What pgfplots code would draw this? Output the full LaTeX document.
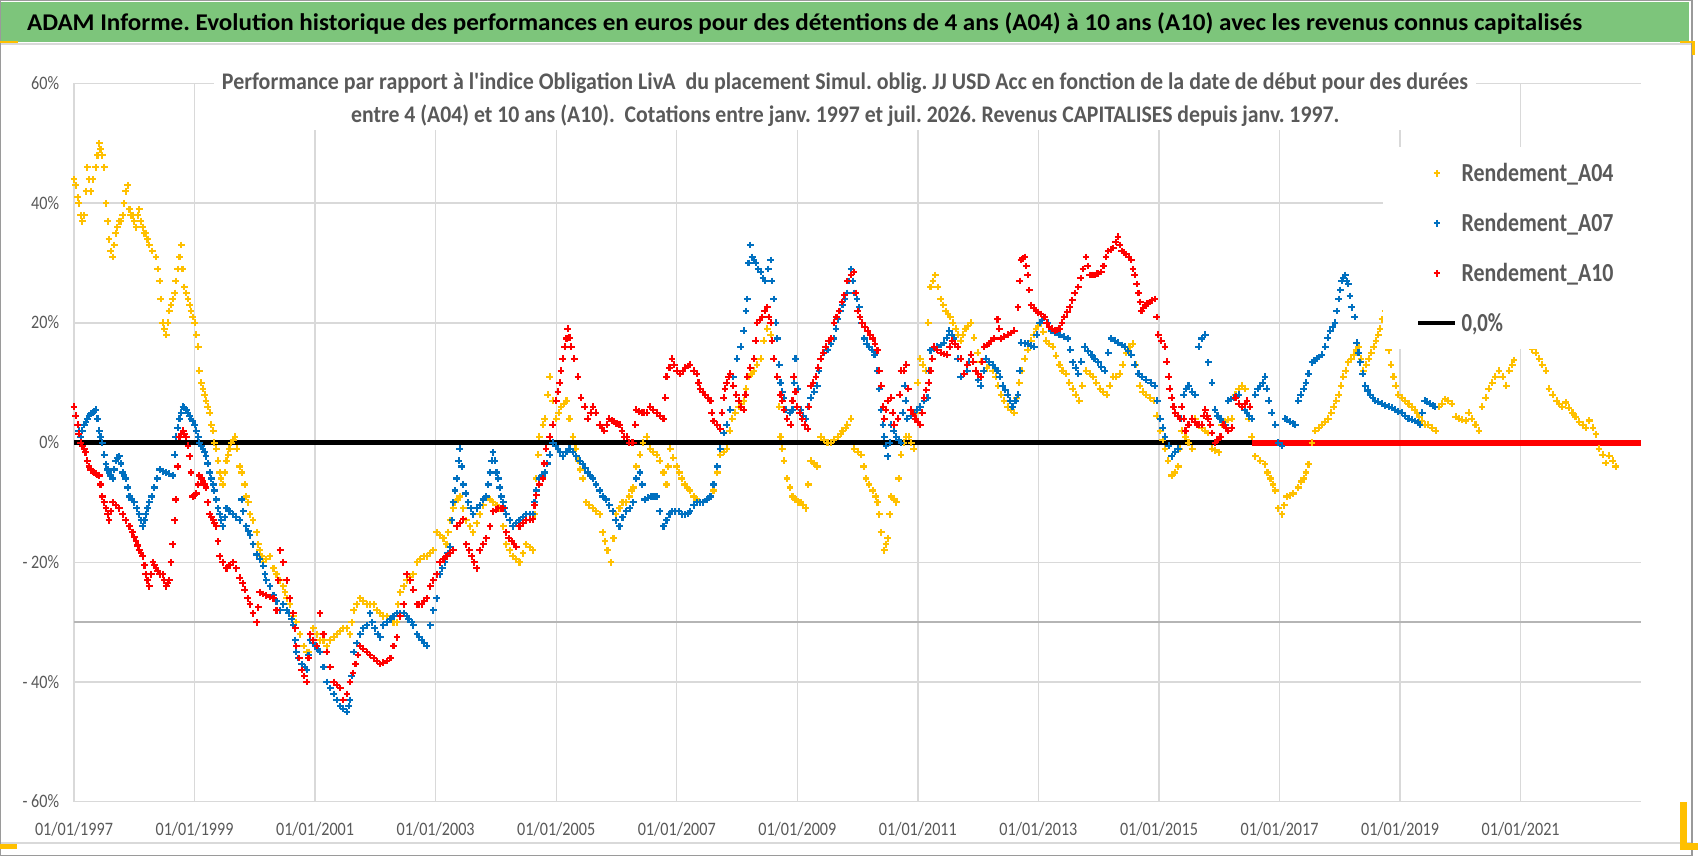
\documentclass[border=0pt]{standalone}
\usepackage{fontspec}
\setmainfont{Carlito}
\usepackage{graphicx}
\usepackage{pgfplots}
\pgfplotsset{compat=1.18}
\frenchspacing
\definecolor{titlegreen}{HTML}{7DC57B}
\definecolor{txtgray}{HTML}{595959}
\definecolor{gridgray}{HTML}{D9D9D9}
\definecolor{midgray}{HTML}{B5B5B5}
\definecolor{framegray}{HTML}{9A9A9A}
\definecolor{c04}{HTML}{FFC000}
\definecolor{c07}{HTML}{0070C0}
\definecolor{c10}{HTML}{FF0000}
\newcommand\tl[1]{\scalebox{0.85}[1]{#1}}
\pgfplotsset{pm/.style={only marks, mark=+, mark size=2pt, line width=1.05pt}}
\begin{document}
\begin{tikzpicture}
\useasboundingbox (0,0) rectangle (849pt,-428pt);
\fill[white] (0,0) rectangle (849pt,-428pt);
\fill[titlegreen] (0.5pt,-0.85pt) rectangle (844.5pt,-20.85pt);
\draw[gridgray, line width=0.6pt] (0,-22pt) -- (846pt,-22pt);
\draw[gridgray, line width=0.6pt] (0,-421.5pt) -- (846pt,-421.5pt);
\draw[framegray, line width=0.6pt] (0.3pt,-0.3pt) rectangle (846pt,-427.6pt);
\fill[c04] (0,-20.5pt) rectangle (9pt,-21.75pt);
\fill[c04] (840pt,-20.5pt) rectangle (847.5pt,-21.75pt);
\fill[c04] (846pt,-20.5pt) rectangle (847.5pt,-27.5pt);
\fill[c04] (0,-422pt) rectangle (8.5pt,-424.5pt);
\fill[c04] (840pt,-401pt) rectangle (843.5pt,-424pt);
\fill[c04] (840pt,-421.5pt) rectangle (849pt,-425pt);
\node[anchor=base, inner sep=0pt] at (402.3pt,-15.4pt) {\resizebox{777.5pt}{\height}{\fontsize{12}{14}\selectfont\bfseries ADAM Informe. Evolution historique des performances en euros pour des détentions de 4 ans (A04) à 10 ans (A10) avec les revenus connus capitalisés}};
\begin{axis}[
  at={(37pt,-400.85pt)}, anchor=south west,
  scale only axis, width=783.6pt, height=359.1pt,
  xmin=1997, xmax=2023, ymin=-60, ymax=60,
  clip=false,
  axis line style={draw=none},
  major tick length=0pt,
  tick style={draw=none},
  grid=major,
  grid style={gridgray, line width=0.7pt},
  xtick={1997,1999,...,2021},
  xticklabels={\tl{01/01/1997},\tl{01/01/1999},\tl{01/01/2001},\tl{01/01/2003},\tl{01/01/2005},\tl{01/01/2007},\tl{01/01/2009},\tl{01/01/2011},\tl{01/01/2013},\tl{01/01/2015},\tl{01/01/2017},\tl{01/01/2019},\tl{01/01/2021}},
  ytick={-60,-40,-20,0,20,40,60},
  yticklabels={\tl{- 60\%},\tl{- 40\%},\tl{- 20\%},\tl{0\%},\tl{20\%},\tl{40\%},\tl{60\%}},
  xticklabel style={font=\fontsize{9.5}{11}\selectfont, text=txtgray, anchor=base, inner sep=0pt, yshift=-16.8pt},
  yticklabel style={font=\fontsize{9.5}{11}\selectfont, text=txtgray, anchor=base east, inner sep=0pt, xshift=-7.25pt, yshift=-3pt},
  legend image code/.code={\draw[mark repeat=2,mark phase=2,#1] plot coordinates {(0pt,0pt) (9.25pt,0pt) (18.5pt,0pt)};},
  legend cell align=left,
  legend style={at={(0.8352,0.9116)}, anchor=north west, draw=none, fill=white,
    inner xsep=16.5pt, inner ysep=7.4pt, row sep=13.8pt, column sep=2pt,
    nodes={inner sep=0pt, text height=9.8pt, text depth=1.4pt},
    font=\fontsize{13}{15}\selectfont\bfseries, text=txtgray},
]
\draw[midgray, line width=0.7pt] (axis cs:1997,-30) -- (axis cs:2023,-30);
\addplot[pm, color=c04, mark options={scale=0.85}] coordinates {
(1997.00,44)(1997.03,43)(1997.06,41)(1997.08,40)(1997.11,38)(1997.14,37)(1997.17,38)(1997.20,42)(1997.22,46)(1997.25,44)(1997.28,42)(1997.31,44)(1997.36,46)(1997.39,48)(1997.42,50)(1997.44,49)(1997.47,48)(1997.50,46)(1997.53,40)(1997.56,37)(1997.58,34)(1997.61,32)(1997.64,31)(1997.67,33)(1997.69,35)(1997.72,36)(1997.75,37)(1997.78,37)(1997.81,38)(1997.83,40)(1997.86,42)(1997.89,43)(1997.92,39)(1997.94,38)(1997.97,38)(1998.00,37)(1998.03,36)(1998.06,38)(1998.08,39)(1998.11,37)(1998.14,36)(1998.17,35)(1998.19,35)(1998.22,34)(1998.25,33)(1998.30,32)(1998.36,31)(1998.39,29)(1998.42,27)(1998.44,24)(1998.47,20)(1998.50,19)(1998.53,18)(1998.56,20)(1998.58,22)(1998.61,23)(1998.64,24)(1998.67,25)(1998.69,27)(1998.72,29)(1998.75,31)(1998.78,33)(1998.80,29)(1998.83,26)(1998.86,25)(1998.89,24)(1998.92,23)(1998.94,22)(1998.97,21)(1999.00,20)(1999.03,18)(1999.06,16)(1999.08,12)(1999.11,10)(1999.14,9)(1999.17,8)(1999.19,7)(1999.22,6)(1999.25,5)(1999.28,3)(1999.31,2)(1999.33,0)(1999.36,-1)(1999.39,-3)(1999.42,-5)(1999.44,-6)(1999.47,-7)(1999.50,-5)(1999.53,-3)(1999.56,-2)(1999.58,-1)(1999.61,0)(1999.64,0.5)(1999.67,1)(1999.70,-1)(1999.75,-4)(1999.78,-5)(1999.83,-7)(1999.86,-9)(1999.89,-10)(1999.92,-12)(1999.97,-13)(2000.03,-15)(2000.06,-17)(2000.08,-18)(2000.11,-19)(2000.14,-20)(2000.19,-19.5)(2000.25,-19)(2000.31,-21)(2000.36,-22)(2000.42,-23)(2000.47,-24)(2000.50,-25)(2000.53,-26)(2000.58,-27)(2000.64,-29)(2000.69,-30)(2000.75,-32)(2000.81,-34)(2000.86,-35)(2000.89,-35)(2000.92,-33)(2000.97,-31)(2001.03,-32)(2001.08,-33)(2001.14,-33)(2001.19,-34)(2001.25,-33)(2001.31,-32.5)(2001.36,-32)(2001.42,-31.5)(2001.47,-31)(2001.53,-31)(2001.58,-32)(2001.61,-30)(2001.64,-28)(2001.69,-27)(2001.75,-26)(2001.80,-26.5)(2001.86,-27)(2001.91,-27)(2001.97,-27)(2002.02,-28)(2002.08,-28.5)(2002.13,-29)(2002.19,-29)(2002.25,-29.5)(2002.30,-30)(2002.36,-30)(2002.38,-27)(2002.41,-25)(2002.47,-24)(2002.52,-23)(2002.58,-22.5)(2002.63,-22)(2002.69,-20)(2002.74,-19.5)(2002.80,-19)(2002.85,-19)(2002.91,-18.5)(2002.96,-18)(2003.02,-15)(2003.07,-15.5)(2003.13,-16)(2003.18,-17)(2003.21,-15)(2003.24,-13)(2003.29,-11)(2003.32,-10)(2003.37,-9.5)(2003.40,-9)(2003.46,-11)(2003.51,-13)(2003.57,-14)(2003.62,-15)(2003.68,-13.5)(2003.73,-12)(2003.79,-10.5)(2003.84,-9)(2003.90,-9.5)(2003.95,-10)(2004.01,-10.5)(2004.06,-11)(2004.12,-14)(2004.17,-17)(2004.23,-18)(2004.28,-19)(2004.34,-19.5)(2004.39,-20)(2004.45,-18.5)(2004.50,-17)(2004.56,-17.5)(2004.61,-18)(2004.64,-12)(2004.67,-6)(2004.70,-2)(2004.72,1)(2004.78,3)(2004.81,4)(2004.86,8)(2004.89,11)(2004.94,7)(2005.00,4)(2005.04,5)(2005.08,6)(2005.13,6.5)(2005.17,7)(2005.22,4)(2005.28,1)(2005.32,-1)(2005.36,-3)(2005.40,-4.5)(2005.44,-6)(2005.50,-10)(2005.55,-10.5)(2005.61,-11)(2005.66,-11.5)(2005.72,-12)(2005.77,-15)(2005.81,-16.5)(2005.85,-18)(2005.91,-20)(2005.95,-16)(2005.99,-12)(2006.05,-11)(2006.10,-10)(2006.16,-10)(2006.21,-9)(2006.25,-8)(2006.28,-7.5)(2006.33,-4)(2006.39,-2)(2006.44,0)(2006.50,1)(2006.56,-1)(2006.61,-1.5)(2006.67,-2)(2006.72,-3)(2006.78,-5)(2006.83,-7)(2006.86,-4)(2006.89,-1)(2006.94,-2.5)(2007.00,-4)(2007.04,-5)(2007.08,-6)(2007.13,-7)(2007.17,-7.5)(2007.22,-8)(2007.28,-9)(2007.33,-9.5)(2007.39,-10)(2007.44,-10)(2007.50,-9.5)(2007.56,-9)(2007.61,-8)(2007.67,-5)(2007.72,-2)(2007.78,-1.5)(2007.83,-1)(2007.88,2)(2007.92,4)(2007.97,5)(2008.03,6)(2008.07,6.5)(2008.11,7)(2008.15,9)(2008.19,11)(2008.24,11.5)(2008.28,12)(2008.33,13)(2008.39,14)(2008.44,17)(2008.50,19)(2008.56,18)(2008.61,14)(2008.67,11)(2008.70,6)(2008.72,1)(2008.75,-1)(2008.78,-3)(2008.83,-6)(2008.88,-7.5)(2008.92,-9)(2008.97,-9.5)(2009.02,-10)(2009.06,-10)(2009.10,-10.5)(2009.14,-11)(2009.18,-7)(2009.22,-3)(2009.28,-3.5)(2009.33,-4)(2009.39,1)(2009.44,0.5)(2009.50,0)(2009.56,0)(2009.61,0.5)(2009.67,1)(2009.72,1.5)(2009.75,2)(2009.80,2.5)(2009.83,3)(2009.89,4)(2009.94,-1)(2010.00,-1.5)(2010.06,-2)(2010.10,-4)(2010.14,-6)(2010.19,-7)(2010.25,-8)(2010.30,-9)(2010.33,-10)(2010.36,-12)(2010.39,-15)(2010.44,-18)(2010.47,-17)(2010.50,-16)(2010.53,-12)(2010.56,-9)(2010.61,-9.5)(2010.64,-10)(2010.68,-6)(2010.72,-2)(2010.77,0)(2010.81,1)(2010.85,1)(2010.89,0)(2010.93,-1)(2010.97,5)(2011.00,10)(2011.04,14)(2011.08,13)(2011.13,12)(2011.17,20)(2011.21,26)(2011.25,27)(2011.29,28)(2011.33,26)(2011.38,24)(2011.42,23)(2011.46,22)(2011.50,21.5)(2011.54,21)(2011.58,20)(2011.63,19)(2011.67,18)(2011.71,17)(2011.75,18)(2011.79,19)(2011.83,19.5)(2011.88,20)(2011.93,17.5)(2011.99,15)(2012.04,13.5)(2012.10,12)(2012.14,12.5)(2012.18,13)(2012.24,12)(2012.29,11)(2012.33,9.5)(2012.38,8)(2012.43,7)(2012.49,6)(2012.54,5.5)(2012.60,5)(2012.64,7.5)(2012.68,10)(2012.72,12)(2012.77,14)(2012.82,15.5)(2012.88,17)(2012.92,18)(2012.96,19)(2013.00,19.5)(2013.04,20)(2013.08,18.5)(2013.13,17)(2013.18,16.5)(2013.24,16)(2013.29,14.5)(2013.35,13)(2013.40,12)(2013.46,11.5)(2013.51,10)(2013.57,9)(2013.62,8)(2013.68,7)(2013.73,9.5)(2013.79,12)(2013.85,11.5)(2013.91,11)(2013.96,10)(2014.02,9)(2014.07,8.5)(2014.13,8)(2014.18,9.5)(2014.24,11)(2014.29,11)(2014.35,11.5)(2014.40,13)(2014.46,15)(2014.51,16)(2014.57,16.5)(2014.62,13)(2014.68,9.5)(2014.73,8.5)(2014.79,8)(2014.85,7.5)(2014.91,7)(2014.96,4.5)(2015.02,2)(2015.06,0.5)(2015.10,-1)(2015.15,-3)(2015.21,-5.5)(2015.26,-5)(2015.32,-4)(2015.35,-1)(2015.38,2)(2015.44,1)(2015.49,0)(2015.55,-1)(2015.60,4)(2015.66,3)(2015.71,2.5)(2015.77,2)(2015.82,1.6)(2015.88,-1)(2015.93,-1.3)(2015.99,-1.6)(2016.04,3)(2016.10,3.5)(2016.15,3.8)(2016.21,4)(2016.27,8)(2016.32,9)(2016.38,9.5)(2016.43,9)(2016.49,4)(2016.54,1)(2016.60,-2.3)(2016.68,-3)(2016.76,-3.6)(2016.80,-5)(2016.85,-6)(2016.89,-7)(2016.93,-8)(2016.98,-11)(2017.04,-12)(2017.08,-10.5)(2017.12,-9)(2017.18,-8.8)(2017.23,-8.5)(2017.31,-7.5)(2017.36,-6.5)(2017.40,-6)(2017.44,-5)(2017.48,-3.6)(2017.54,0)(2017.59,2)(2017.65,2.5)(2017.70,3)(2017.76,3.5)(2017.81,4)(2017.86,5)(2017.90,6)(2017.94,7)(2017.98,8)(2018.02,9.5)(2018.06,11)(2018.10,12)(2018.14,13.4)(2018.19,14)(2018.23,14.7)(2018.27,15.5)(2018.31,16)(2018.35,14)(2018.39,12)(2018.44,13)(2018.48,14)(2018.52,15)(2018.56,16)(2018.60,17)(2018.64,18)(2018.67,19)(2018.70,20.6)(2018.75,22)(2018.78,18)(2018.81,15.4)(2018.85,13)(2018.89,11)(2018.93,9.5)(2018.97,8)(2019.03,7.5)(2019.08,7)(2019.14,6.5)(2019.19,6)(2019.24,5.5)(2019.28,5)(2019.32,4.3)(2019.36,3.6)(2019.42,3)(2019.47,3)(2019.53,2.5)(2019.59,2)(2019.64,6)(2019.70,6.5)(2019.75,7.3)(2019.80,7)(2019.86,6.5)(2019.92,4.3)(2019.97,4)(2020.03,3.8)(2020.09,3.7)(2020.14,5)(2020.19,4)(2020.25,3)(2020.31,2)(2020.36,6)(2020.42,7.5)(2020.47,9)(2020.53,10)(2020.58,11)(2020.64,12)(2020.70,11)(2020.76,9.5)(2020.81,12)(2020.86,13)(2020.89,13.8)(2021.19,15.6)(2021.25,15)(2021.31,14)(2021.36,13)(2021.42,12)(2021.47,9)(2021.53,8)(2021.60,7)(2021.64,6.5)(2021.69,6)(2021.75,6.7)(2021.80,5.8)(2021.86,5)(2021.91,4.3)(2021.97,3.5)(2022.03,3)(2022.08,2.5)(2022.14,3.7)(2022.20,2.5)(2022.25,1.4)(2022.30,-1)(2022.36,-2)(2022.41,-3.4)(2022.47,-2.2)(2022.53,-3)(2022.58,-4)
};
\addlegendentry{\resizebox{76pt}{\height}{Rendement\_A04}}
\addplot[pm, color=c07, mark options={scale=0.85}] coordinates {
(1997.00,6)(1997.03,4.5)(1997.06,3)(1997.08,2)(1997.11,1)(1997.14,2)(1997.17,3)(1997.20,3.5)(1997.22,4)(1997.25,4.5)(1997.28,4.8)(1997.31,5)(1997.33,5.2)(1997.36,5.5)(1997.39,4)(1997.42,2)(1997.44,1)(1997.47,0)(1997.50,-2)(1997.53,-3.6)(1997.56,-4.5)(1997.58,-5)(1997.61,-5.5)(1997.64,-6)(1997.67,-4.5)(1997.69,-3)(1997.72,-2.5)(1997.75,-2.3)(1997.78,-3.5)(1997.81,-5)(1997.83,-5.5)(1997.86,-6)(1997.89,-7.5)(1997.92,-9)(1997.96,-9.5)(1998.00,-10)(1998.04,-11)(1998.08,-12)(1998.11,-13)(1998.14,-14)(1998.17,-13)(1998.19,-12)(1998.22,-11)(1998.25,-10)(1998.29,-9)(1998.33,-7.5)(1998.38,-6)(1998.42,-4.5)(1998.47,-4.8)(1998.53,-5)(1998.58,-5.2)(1998.64,-5.5)(1998.67,-2)(1998.69,1)(1998.72,2.5)(1998.75,4)(1998.78,5)(1998.81,6)(1998.83,5.8)(1998.86,5.5)(1998.89,5)(1998.92,4.5)(1998.94,4)(1998.97,3.6)(1999.00,3)(1999.03,2)(1999.06,1)(1999.08,0)(1999.11,-0.5)(1999.14,-1)(1999.17,-1.5)(1999.19,-2.3)(1999.22,-3.5)(1999.25,-5)(1999.28,-6)(1999.31,-7)(1999.33,-8)(1999.36,-9.5)(1999.39,-11)(1999.42,-12)(1999.44,-13)(1999.47,-14)(1999.50,-12.5)(1999.53,-11)(1999.58,-11.5)(1999.64,-12)(1999.69,-12.5)(1999.75,-13)(1999.78,-9.5)(1999.81,-11.5)(1999.86,-14)(1999.89,-14.8)(1999.92,-15.5)(1999.97,-17)(2000.03,-18.7)(2000.08,-19.5)(2000.14,-20.6)(2000.17,-22)(2000.19,-23)(2000.25,-24)(2000.31,-25.5)(2000.36,-26.5)(2000.42,-28)(2000.47,-27)(2000.53,-28)(2000.56,-28.5)(2000.61,-29.5)(2000.64,-30.5)(2000.67,-33)(2000.69,-35)(2000.72,-36)(2000.78,-37)(2000.83,-37.5)(2000.86,-38)(2000.89,-35.5)(2000.92,-33)(2000.97,-33.5)(2001.00,-34)(2001.04,-34.5)(2001.08,-35)(2001.14,-37.5)(2001.19,-40)(2001.25,-41)(2001.31,-42)(2001.36,-43)(2001.42,-44)(2001.47,-44.5)(2001.53,-45)(2001.56,-44)(2001.58,-43)(2001.61,-39)(2001.64,-35)(2001.69,-33.5)(2001.75,-32)(2001.80,-31)(2001.86,-30.5)(2001.91,-28.5)(2001.95,-30)(2001.99,-31)(2002.04,-32)(2002.08,-32.5)(2002.13,-30.5)(2002.19,-30)(2002.25,-29.5)(2002.30,-29)(2002.36,-28.5)(2002.41,-28.5)(2002.47,-28.5)(2002.52,-29)(2002.55,-29.5)(2002.60,-30)(2002.63,-30.5)(2002.69,-32)(2002.73,-32.5)(2002.77,-33)(2002.81,-33.5)(2002.85,-34)(2002.91,-30.5)(2002.96,-28)(2003.02,-26)(2003.07,-22)(2003.11,-21)(2003.15,-20)(2003.20,-18.5)(2003.24,-17.4)(2003.27,-13)(2003.29,-10)(2003.32,-8)(2003.35,-6)(2003.38,-3)(2003.40,-1)(2003.43,-4)(2003.46,-7)(2003.50,-8.5)(2003.54,-10)(2003.58,-11)(2003.62,-12)(2003.68,-11)(2003.73,-10.5)(2003.79,-9.5)(2003.84,-9)(2003.87,-7)(2003.90,-5)(2003.93,-3)(2003.95,-1.6)(2003.98,-3)(2004.01,-5)(2004.04,-6)(2004.06,-7.5)(2004.09,-9)(2004.12,-10)(2004.15,-11)(2004.17,-12)(2004.23,-13)(2004.28,-14)(2004.34,-13.5)(2004.39,-13)(2004.45,-12.5)(2004.50,-12)(2004.56,-12)(2004.61,-12)(2004.64,-10)(2004.67,-8)(2004.72,-6)(2004.77,-5.5)(2004.81,-5)(2004.85,-3.5)(2004.89,-2)(2004.94,0)(2004.99,-0.5)(2005.03,-1)(2005.07,-1.5)(2005.11,-2.3)(2005.17,-1.5)(2005.22,-1)(2005.28,-1.5)(2005.33,-2.3)(2005.39,-3)(2005.44,-3.6)(2005.48,-4.3)(2005.52,-5)(2005.56,-5.5)(2005.61,-6)(2005.66,-7)(2005.72,-8)(2005.77,-9)(2005.83,-9.5)(2005.88,-10.5)(2005.94,-11.5)(2005.99,-13)(2006.05,-14)(2006.10,-12.5)(2006.16,-11.5)(2006.22,-11)(2006.28,-10)(2006.33,-6)(2006.39,-5)(2006.43,-7)(2006.47,-9.5)(2006.53,-9.2)(2006.58,-9)(2006.63,-9)(2006.67,-9)(2006.72,-11.5)(2006.78,-14)(2006.83,-13)(2006.88,-12)(2006.92,-11.5)(2006.97,-11.5)(2007.03,-11.5)(2007.08,-12)(2007.14,-12)(2007.19,-11.8)(2007.22,-11.5)(2007.28,-10.5)(2007.33,-10)(2007.39,-10)(2007.44,-10)(2007.50,-9.5)(2007.56,-9)(2007.61,-7)(2007.67,-4)(2007.72,-1)(2007.78,1.6)(2007.83,3)(2007.89,5.5)(2007.94,11)(2008.00,14)(2008.06,16)(2008.11,18.7)(2008.15,22)(2008.17,24)(2008.19,30)(2008.22,33)(2008.25,31)(2008.28,30.5)(2008.31,30)(2008.35,29)(2008.39,28.5)(2008.43,27.5)(2008.47,27)(2008.52,29)(2008.56,30.5)(2008.58,27)(2008.61,24)(2008.64,20)(2008.67,17.4)(2008.70,13)(2008.72,10)(2008.75,8.5)(2008.78,7.5)(2008.81,5.5)(2008.83,4)(2008.88,5)(2008.92,5.5)(2008.95,10)(2008.97,14)(2009.01,9)(2009.06,5.5)(2009.10,4.5)(2009.14,4)(2009.18,6)(2009.22,7.5)(2009.28,8.5)(2009.33,9.5)(2009.36,12)(2009.39,14)(2009.44,15)(2009.50,15.5)(2009.56,16.5)(2009.61,17.4)(2009.64,19)(2009.67,20.6)(2009.71,22)(2009.75,23)(2009.79,24)(2009.83,25)(2009.86,27)(2009.89,29)(2009.92,27)(2009.94,25)(2009.99,24)(2010.03,22.6)(2010.07,20)(2010.11,17.4)(2010.15,16.5)(2010.19,16)(2010.24,15.5)(2010.28,14.7)(2010.33,12)(2010.36,9)(2010.39,5.5)(2010.42,3)(2010.44,1)(2010.47,-0.5)(2010.50,-2.3)(2010.53,0)(2010.56,3)(2010.60,2)(2010.64,1)(2010.68,0.5)(2010.72,0)(2010.75,5)(2010.78,9.5)(2010.80,7)(2010.82,4)(2010.88,4.5)(2010.93,5)(2010.99,5.5)(2011.04,6)(2011.10,7)(2011.16,7.5)(2011.19,12)(2011.21,15.4)(2011.27,15.7)(2011.32,16)(2011.38,16.3)(2011.43,16.7)(2011.48,17.5)(2011.52,18.7)(2011.56,18)(2011.60,17.4)(2011.66,14)(2011.71,11)(2011.77,11.5)(2011.82,12)(2011.85,13.5)(2011.88,14.7)(2011.92,13.5)(2011.96,12)(2012.00,10.5)(2012.04,9.5)(2012.09,12)(2012.13,14)(2012.18,13.5)(2012.24,13)(2012.28,12.5)(2012.32,12)(2012.36,11)(2012.41,9.5)(2012.45,8.8)(2012.49,8)(2012.53,7)(2012.57,6)(2012.62,7)(2012.66,8)(2012.69,12)(2012.71,16.7)(2012.77,16.6)(2012.82,16.5)(2012.88,16.2)(2012.93,16)(2012.97,18)(2013.02,20)(2013.06,20.5)(2013.10,21)(2013.15,20)(2013.21,18.7)(2013.28,18.3)(2013.35,18)(2013.42,17.7)(2013.49,17.4)(2013.53,15.5)(2013.57,13.4)(2013.62,12.5)(2013.66,11.5)(2013.71,13.5)(2013.77,16)(2013.82,15.3)(2013.88,14.7)(2013.93,14)(2013.99,13.4)(2014.04,12.7)(2014.10,12)(2014.16,15)(2014.21,17.4)(2014.27,17)(2014.32,16.7)(2014.38,16.3)(2014.43,16)(2014.49,15.3)(2014.54,14.7)(2014.60,13)(2014.66,11.5)(2014.72,11)(2014.79,10.5)(2014.86,10)(2014.93,9.5)(2014.97,7)(2015.02,4)(2015.06,2.5)(2015.10,1)(2015.16,-0.5)(2015.21,-2.3)(2015.27,-1.5)(2015.32,-1)(2015.36,4)(2015.41,8)(2015.45,9)(2015.49,9.5)(2015.55,8.5)(2015.60,8)(2015.66,16)(2015.71,17.4)(2015.77,18)(2015.82,13.4)(2015.88,10)(2015.93,5.5)(2015.97,4.5)(2016.02,4)(2016.06,3.5)(2016.10,3)(2016.15,7)(2016.20,7.3)(2016.24,7.5)(2016.28,7.8)(2016.32,8)(2016.38,6)(2016.42,5.5)(2016.46,5)(2016.50,4.5)(2016.54,4)(2016.60,8)(2016.64,9)(2016.68,9.5)(2016.72,10)(2016.76,11)(2016.79,9)(2016.82,7)(2016.87,5)(2016.93,3)(2016.98,0)(2017.04,-0.5)(2017.09,4)(2017.13,3.8)(2017.18,3.5)(2017.22,3.2)(2017.26,3)(2017.31,7)(2017.35,8)(2017.40,9)(2017.44,10)(2017.48,11.5)(2017.54,13.4)(2017.58,13.7)(2017.62,14)(2017.66,14.3)(2017.70,14.7)(2017.76,16)(2017.80,17.5)(2017.84,18.7)(2017.88,19.3)(2017.92,20)(2017.95,22)(2017.98,24)(2018.01,25.5)(2018.03,27)(2018.06,27.5)(2018.09,28)(2018.12,27)(2018.14,26.5)(2018.17,24.5)(2018.20,22.6)(2018.25,21)(2018.28,16.7)(2018.31,15)(2018.34,13.4)(2018.38,11.5)(2018.42,9.5)(2018.46,8.7)(2018.50,8)(2018.55,7.5)(2018.59,7)(2018.64,6.8)(2018.70,6.5)(2018.75,6.2)(2018.81,6)(2018.86,5.8)(2018.92,5.5)(2018.97,5.2)(2019.03,5)(2019.08,4.5)(2019.14,4)(2019.19,3.8)(2019.25,3.6)(2019.29,3.3)(2019.33,3)(2019.37,5)(2019.41,7)(2019.45,6.8)(2019.50,6.5)(2019.54,6.2)(2019.58,6)
};
\addlegendentry{\resizebox{76pt}{\height}{Rendement\_A07}}
\addplot[pm, color=c10, mark options={scale=0.85}] coordinates {
(1997.00,6)(1997.03,4.5)(1997.06,3)(1997.08,1.5)(1997.11,0)(1997.14,-0.5)(1997.17,-1)(1997.19,-1.6)(1997.22,-3)(1997.25,-4)(1997.28,-4.5)(1997.33,-5)(1997.36,-5.2)(1997.39,-5.4)(1997.42,-5.5)(1997.44,-7)(1997.47,-9)(1997.50,-10)(1997.53,-11)(1997.56,-12)(1997.58,-13)(1997.61,-11.5)(1997.64,-10)(1997.69,-10.5)(1997.75,-11)(1997.81,-12)(1997.86,-13)(1997.92,-14)(1997.97,-15)(1998.00,-15.8)(1998.03,-16.5)(1998.06,-17.2)(1998.08,-18)(1998.11,-18.5)(1998.14,-19)(1998.17,-20.5)(1998.19,-22)(1998.22,-23)(1998.25,-24)(1998.28,-22)(1998.31,-20)(1998.33,-20.5)(1998.36,-21)(1998.39,-21.5)(1998.42,-22)(1998.47,-22)(1998.50,-23)(1998.53,-24)(1998.56,-23.5)(1998.58,-23)(1998.61,-20)(1998.64,-17)(1998.67,-13)(1998.69,-9.5)(1998.72,-4)(1998.75,1)(1998.78,1.5)(1998.81,2)(1998.83,1.5)(1998.86,1)(1998.89,-0.5)(1998.92,-2.3)(1998.94,-5)(1998.97,-9)(1999.00,-8.8)(1999.03,-8.5)(1999.06,-7)(1999.08,-5.5)(1999.11,-6)(1999.14,-6.5)(1999.17,-7)(1999.19,-7.5)(1999.22,-10)(1999.25,-12)(1999.28,-12.5)(1999.31,-13)(1999.33,-13.5)(1999.36,-14)(1999.39,-16.5)(1999.42,-19)(1999.47,-20)(1999.53,-21)(1999.58,-20.5)(1999.64,-20)(1999.69,-21)(1999.75,-22.6)(1999.80,-23.5)(1999.83,-24.6)(1999.88,-26)(1999.92,-27)(1999.97,-28.5)(2000.03,-30)(2000.06,-27.5)(2000.08,-25)(2000.14,-25.3)(2000.19,-25.5)(2000.25,-25.8)(2000.31,-26)(2000.36,-28)(2000.39,-23)(2000.42,-18)(2000.47,-20)(2000.53,-23)(2000.58,-26)(2000.64,-28.5)(2000.67,-31)(2000.69,-34)(2000.74,-36)(2000.78,-38)(2000.82,-39)(2000.86,-40)(2000.89,-36)(2000.92,-32)(2000.97,-33)(2001.03,-34)(2001.08,-28.5)(2001.14,-32)(2001.19,-35)(2001.25,-37.5)(2001.31,-40)(2001.36,-40.5)(2001.42,-41)(2001.47,-43)(2001.53,-42)(2001.58,-40)(2001.63,-38.5)(2001.67,-37)(2001.71,-35.5)(2001.75,-34)(2001.80,-34.5)(2001.86,-35)(2001.91,-35.5)(2001.97,-36)(2002.02,-36.5)(2002.08,-37)(2002.13,-36.8)(2002.19,-36.5)(2002.25,-36)(2002.30,-34)(2002.36,-32.5)(2002.41,-29)(2002.47,-27)(2002.52,-22)(2002.58,-23)(2002.63,-24.6)(2002.69,-27)(2002.73,-27)(2002.77,-27)(2002.81,-26.5)(2002.85,-26)(2002.91,-24)(2002.96,-23)(2003.02,-22)(2003.07,-20)(2003.13,-19.5)(2003.18,-19)(2003.24,-18.5)(2003.29,-18)(2003.35,-14)(2003.40,-13.5)(2003.46,-12.8)(2003.51,-17)(2003.56,-18)(2003.60,-19)(2003.64,-20)(2003.68,-21)(2003.73,-18)(2003.79,-17)(2003.84,-16)(2003.90,-14)(2003.95,-11.5)(2004.00,-11.2)(2004.04,-11)(2004.08,-11)(2004.12,-11)(2004.17,-15)(2004.21,-16)(2004.26,-16.5)(2004.30,-17)(2004.34,-17.4)(2004.39,-14)(2004.45,-13.5)(2004.50,-13)(2004.56,-12.9)(2004.61,-12.8)(2004.64,-10.5)(2004.67,-8.8)(2004.72,-7)(2004.78,-6)(2004.80,-3.5)(2004.83,-1)(2004.89,1)(2004.94,3)(2005.00,7)(2005.03,8.5)(2005.06,10)(2005.08,12)(2005.11,14)(2005.14,16)(2005.17,17.4)(2005.19,19)(2005.22,17.5)(2005.25,16)(2005.30,14)(2005.36,11)(2005.41,7.5)(2005.47,6)(2005.52,4)(2005.57,5)(2005.61,6)(2005.66,5)(2005.72,3)(2005.76,2.5)(2005.80,2)(2005.84,3)(2005.88,4)(2005.92,3.7)(2005.96,3.5)(2006.00,3.2)(2006.05,3)(2006.09,2)(2006.13,1)(2006.17,1)(2006.21,0)(2006.25,0)(2006.28,0)(2006.31,3)(2006.33,5.5)(2006.38,5.2)(2006.42,5)(2006.46,5)(2006.50,5)(2006.56,6)(2006.61,5.5)(2006.67,5)(2006.72,4.5)(2006.78,4)(2006.81,7.5)(2006.83,11)(2006.88,12.5)(2006.92,14)(2006.96,13)(2007.00,12)(2007.06,11.5)(2007.10,12)(2007.14,12.5)(2007.18,12.8)(2007.22,13)(2007.28,12)(2007.33,11.5)(2007.36,10)(2007.39,9)(2007.43,8.5)(2007.47,8)(2007.52,7.5)(2007.56,7)(2007.58,5)(2007.61,3.6)(2007.67,3)(2007.72,2.3)(2007.75,5)(2007.78,7.5)(2007.80,9)(2007.83,10)(2007.86,11)(2007.89,11.5)(2007.94,9.5)(2007.99,8)(2008.03,7)(2008.07,6)(2008.11,5.5)(2008.14,8)(2008.17,11)(2008.22,12.5)(2008.28,14)(2008.31,17)(2008.33,20)(2008.38,20.5)(2008.42,21)(2008.46,22)(2008.50,22.6)(2008.53,21)(2008.56,20)(2008.58,17)(2008.61,14)(2008.67,11)(2008.72,8)(2008.75,7)(2008.78,5.5)(2008.83,4)(2008.89,3)(2008.92,7)(2008.94,11)(2008.97,8.5)(2009.00,6)(2009.04,5)(2009.08,4)(2009.12,3)(2009.17,2.3)(2009.19,6)(2009.22,9.5)(2009.26,10)(2009.31,11)(2009.35,12.5)(2009.39,14)(2009.43,15)(2009.47,16)(2009.52,17)(2009.56,17.4)(2009.61,20)(2009.65,21)(2009.69,22)(2009.74,23.5)(2009.78,24.6)(2009.83,27)(2009.89,28)(2009.94,28.5)(2009.97,25)(2010.00,22)(2010.04,21)(2010.08,20)(2010.12,19.3)(2010.17,18.7)(2010.21,18)(2010.25,17.4)(2010.29,16.5)(2010.33,15.4)(2010.36,12)(2010.39,9.5)(2010.42,6)(2010.44,4)(2010.47,5.5)(2010.50,7)(2010.56,7.5)(2010.58,5)(2010.61,3)(2010.67,4)(2010.70,8)(2010.72,12)(2010.77,12)(2010.81,13)(2010.84,9)(2010.88,5.5)(2010.92,4.8)(2010.96,4)(2011.00,3.5)(2011.04,3)(2011.07,5)(2011.10,7.5)(2011.14,8.8)(2011.18,10)(2011.21,12)(2011.24,14)(2011.27,16)(2011.32,15.5)(2011.38,15)(2011.43,14.8)(2011.49,14.7)(2011.53,16)(2011.57,17)(2011.62,16.5)(2011.66,16)(2011.71,14)(2011.77,11.5)(2011.82,13)(2011.88,14.7)(2011.92,13.5)(2011.96,12)(2012.00,11.5)(2012.04,11)(2012.07,13.5)(2012.10,16)(2012.14,16.3)(2012.18,16.5)(2012.22,17)(2012.27,17.4)(2012.32,20.6)(2012.35,19)(2012.38,17.4)(2012.43,17.7)(2012.49,18)(2012.54,18.3)(2012.60,18.7)(2012.66,22.6)(2012.69,27)(2012.71,30.5)(2012.74,30.8)(2012.77,31)(2012.80,29.5)(2012.82,28)(2012.85,25.5)(2012.88,23)(2012.92,22.5)(2012.96,22)(2013.00,21.8)(2013.04,21.5)(2013.10,21)(2013.14,20)(2013.18,19.3)(2013.22,19)(2013.27,18.7)(2013.31,18.8)(2013.35,19)(2013.39,20)(2013.43,21)(2013.48,21.8)(2013.52,22.6)(2013.56,23.8)(2013.60,25)(2013.66,26)(2013.70,27.5)(2013.74,29)(2013.79,31)(2013.82,29.5)(2013.85,28)(2013.89,28)(2013.93,28)(2013.98,28.2)(2014.04,28.5)(2014.08,29.5)(2014.12,31)(2014.16,32)(2014.20,32.2)(2014.24,32.5)(2014.28,33.5)(2014.32,34.4)(2014.35,33)(2014.38,32)(2014.42,31.8)(2014.46,31.5)(2014.50,31)(2014.54,30.5)(2014.57,29)(2014.60,28)(2014.63,26.5)(2014.66,25)(2014.69,23.5)(2014.71,22)(2014.74,22.5)(2014.77,23)(2014.81,23.3)(2014.85,23.5)(2014.89,23.8)(2014.93,24)(2014.96,21)(2014.99,18)(2015.04,17)(2015.10,16)(2015.13,13.5)(2015.16,11)(2015.18,9)(2015.21,7.5)(2015.24,6)(2015.27,5)(2015.31,4.5)(2015.35,4)(2015.38,6)(2015.41,4)(2015.44,2)(2015.49,3)(2015.55,4)(2015.59,3.5)(2015.63,3)(2015.67,3)(2015.71,3)(2015.74,4.5)(2015.77,5.5)(2015.80,4.5)(2015.82,4)(2015.85,3)(2015.88,1.6)(2015.93,0)(2015.97,0.5)(2016.02,1)(2016.07,3)(2016.11,2.5)(2016.15,2)(2016.21,2.5)(2016.27,7.5)(2016.32,6.5)(2016.38,6)(2016.42,6.5)(2016.46,7)(2016.51,6)
};
\addlegendentry{\resizebox{76pt}{\height}{Rendement\_A10}}
\addplot[forget plot, color=c10, line width=3pt] coordinates {(2016.55,0) (2023,0)};
\addplot[black, line width=2.1pt] coordinates {(1997,0) (2016.55,0)};
\addlegendentry{\resizebox{20.8pt}{\height}{0,0\%}}
\end{axis}
\fill[white] (107pt,-31pt) rectangle (738pt,-65pt);
\node[anchor=base, inner sep=0pt, text=txtgray] at (422.5pt,-44.7pt) {\resizebox{623pt}{\height}{\fontsize{11.9}{14}\selectfont\bfseries Performance par rapport à l\textquotesingle indice Obligation LivA\ \ du placement Simul. oblig. JJ USD Acc en fonction de la date de début pour des durées}};
\node[anchor=base, inner sep=0pt, text=txtgray] at (422.6pt,-61.3pt) {\resizebox{494pt}{\height}{\fontsize{11.9}{14}\selectfont\bfseries entre 4 (A04) et 10 ans (A10).\ \ Cotations entre janv. 1997 et juil. 2026. Revenus CAPITALISES depuis janv. 1997.}};
\end{tikzpicture}
\end{document}
